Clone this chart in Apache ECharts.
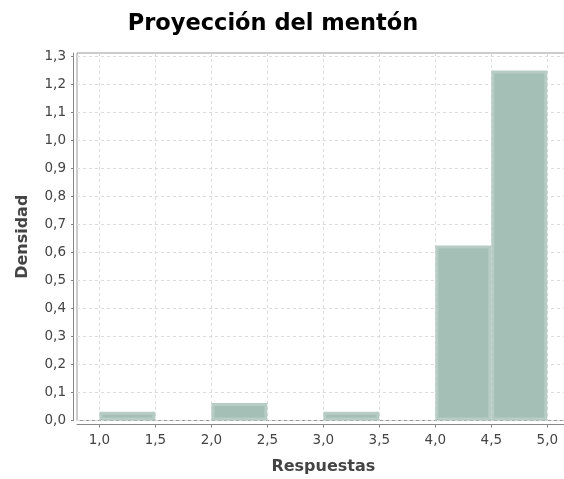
<!DOCTYPE html>
<html>
<head>
<meta charset="utf-8">
<script src="https://cdn.jsdelivr.net/npm/echarts@6/dist/echarts.min.js"></script>
<style>
html,body{margin:0;padding:0;background:#fff;}
#chart{width:564px;height:479px;}
</style>
</head>
<body>
<div id="chart"></div>
<script>
// Histogram data (bin width 0.5)
var binStarts = [1.0, 1.5, 2.0, 2.5, 3.0, 3.5, 4.0, 4.5];
var binWidth = 0.5;
var densities = [0.03125, 0, 0.0625, 0, 0.03125, 0, 0.625, 1.25];
var xTicks = [1.0, 1.5, 2.0, 2.5, 3.0, 3.5, 4.0, 4.5, 5.0];
var yTicks = [0, 0.1, 0.2, 0.3, 0.4, 0.5, 0.6, 0.7, 0.8, 0.9, 1.0, 1.1, 1.2, 1.3];

var barData = [];
for (var i = 0; i < binStarts.length; i++) {
  if (densities[i] > 0) barData.push([binStarts[i], binStarts[i] + binWidth, densities[i]]);
}

function fmt(v) { return v.toFixed(1).replace('.', ','); }

var chart = echarts.init(document.getElementById('chart'), null, {renderer: 'canvas'});
var font = 'DejaVu Sans';
chart.setOption({
  animation: false,
  backgroundColor: '#ffffff',
  title: {
    text: 'Proyección del mentón',
    left: 268,
    textAlign: 'center',
    top: 8,
    textStyle: {fontFamily: font, fontSize: 22.5, fontWeight: 'bold', color: '#000'}
  },
  grid: {
    left: 77, top: 53, width: 492.7, height: 367.5,
    outerBoundsMode: 'none', containLabel: false,
    show: true, borderColor: '#999', borderWidth: 1, backgroundColor: '#fff'
  },
  xAxis: {
    type: 'value', min: 0.8, max: 5.2, offset: 4,
    name: 'Respuestas', nameLocation: 'middle', nameGap: 34,
    nameTextStyle: {fontFamily: font, fontSize: 16, fontWeight: 'bold', color: '#444'},
    axisLine: {show: true, onZero: false, lineStyle: {color: '#888', width: 1}},
    axisTick: {show: true, length: 3, customValues: xTicks, lineStyle: {color: '#888'}},
    axisLabel: {customValues: xTicks, formatter: fmt, margin: 9,
      fontFamily: font, fontSize: 13.5, color: '#444'},
    splitLine: {show: true, lineStyle: {color: '#dcdcdc', type: [3, 3], width: 1}}
  },
  yAxis: {
    type: 'value', min: 0, max: 1.3125, offset: 4,
    name: 'Densidad', nameLocation: 'middle', nameGap: 42,
    nameTextStyle: {fontFamily: font, fontSize: 16, fontWeight: 'bold', color: '#444'},
    axisLine: {show: true, onZero: false, lineStyle: {color: '#888', width: 1}},
    axisTick: {show: true, length: 2, customValues: yTicks, lineStyle: {color: '#888'}},
    axisLabel: {customValues: yTicks, formatter: fmt, margin: 7,
      fontFamily: font, fontSize: 13.5, color: '#444'},
    splitLine: {show: true, lineStyle: {color: '#dcdcdc', type: [3, 3], width: 1}}
  },
  series: [{
    type: 'custom',
    data: barData,
    encode: {x: [0, 1], y: 2},
    renderItem: function (params, api) {
      var p0 = api.coord([api.value(0), api.value(2)]);
      var p1 = api.coord([api.value(1), 0]);
      var x = p0[0], y = p0[1], w = p1[0] - p0[0], h = p1[1] - p0[1];
      var ins = 3;
      var children = [{
        type: 'rect',
        shape: {x: x, y: y, width: w, height: h},
        style: {fill: '#b6ccc4'}
      }];
      if (h > 2 * ins && w > 2 * ins) {
        children.push({
          type: 'rect',
          shape: {x: x + ins, y: y + ins, width: w - 2 * ins, height: h - 2 * ins},
          style: {fill: '#a4bfb5'}
        });
      }
      return {type: 'group', children: children};
    }
  }]
});
</script>
</body>
</html>
